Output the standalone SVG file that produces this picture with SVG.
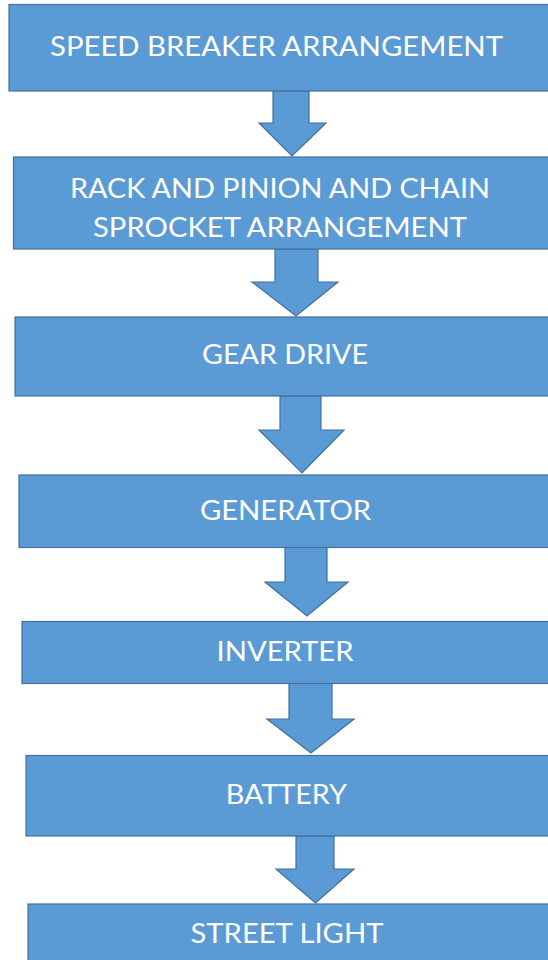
<svg xmlns="http://www.w3.org/2000/svg" width="548" height="960" viewBox="0 0 548 960">
  <style>
    .box { fill: #5b9bd5; stroke: #41719c; stroke-width: 1.2; }
    .arrow { fill: #5b9bd5; stroke: #41719c; stroke-width: 1.2; stroke-linejoin: miter; }
    .label { fill: #ffffff; font-family: Lato, "Open Sans", "Liberation Sans", sans-serif; font-size: 26px; text-anchor: middle; }
  </style>
  <rect width="548" height="960" fill="#ffffff"/>

  <!-- block arrows between stages -->
  <g id="connectors">
    <polygon class="arrow" points="273,91 309,91 309,123 326,123 292,156 259,123 273,123"/>
    <polygon class="arrow" points="275,249 318,249 318,282 338,282 296,316 252,282 275,282"/>
    <polygon class="arrow" points="280,396 321,396 321,430 344,430 302,473 259,430 280,430"/>
    <polygon class="arrow" points="285,547.5 327,547.5 327,582 348,582 307,616 265,582 285,582"/>
    <polygon class="arrow" points="289,683.5 332,683.5 332,719 354,719 311,753 267,719 289,719"/>
    <polygon class="arrow" points="296,836 334,836 334,869 354,869 315.5,903 276,869 296,869"/>
  </g>

  <!-- stages, top to bottom -->
  <g id="speed-breaker">
    <rect class="box" x="9" y="4.5" width="600" height="86.5"/>
    <text class="label" x="276.5" y="56" textLength="453" lengthAdjust="spacingAndGlyphs">SPEED BREAKER ARRANGEMENT</text>
  </g>
  <g id="rack-pinion">
    <rect class="box" x="13.5" y="157" width="600" height="92"/>
    <text class="label" x="280" y="198" textLength="420" lengthAdjust="spacingAndGlyphs">RACK AND PINION AND CHAIN</text>
    <text class="label" x="280" y="236.5" textLength="374" lengthAdjust="spacingAndGlyphs">SPROCKET ARRANGEMENT</text>
  </g>
  <g id="gear-drive">
    <rect class="box" x="15" y="317" width="600" height="79"/>
    <text class="label" x="285" y="364" textLength="166" lengthAdjust="spacingAndGlyphs">GEAR DRIVE</text>
  </g>
  <g id="generator">
    <rect class="box" x="19" y="475" width="600" height="72.5"/>
    <text class="label" x="285.5" y="520" textLength="171" lengthAdjust="spacingAndGlyphs">GENERATOR</text>
  </g>
  <g id="inverter">
    <rect class="box" x="22" y="621.5" width="600" height="62"/>
    <text class="label" x="285" y="661" textLength="137" lengthAdjust="spacingAndGlyphs">INVERTER</text>
  </g>
  <g id="battery">
    <rect class="box" x="26" y="755.5" width="600" height="80.5"/>
    <text class="label" x="286.3" y="804" textLength="121" lengthAdjust="spacingAndGlyphs">BATTERY</text>
  </g>
  <g id="street-light">
    <rect class="box" x="28" y="904" width="600" height="80"/>
    <text class="label" x="287" y="943" textLength="193" lengthAdjust="spacingAndGlyphs">STREET LIGHT</text>
  </g>
</svg>
